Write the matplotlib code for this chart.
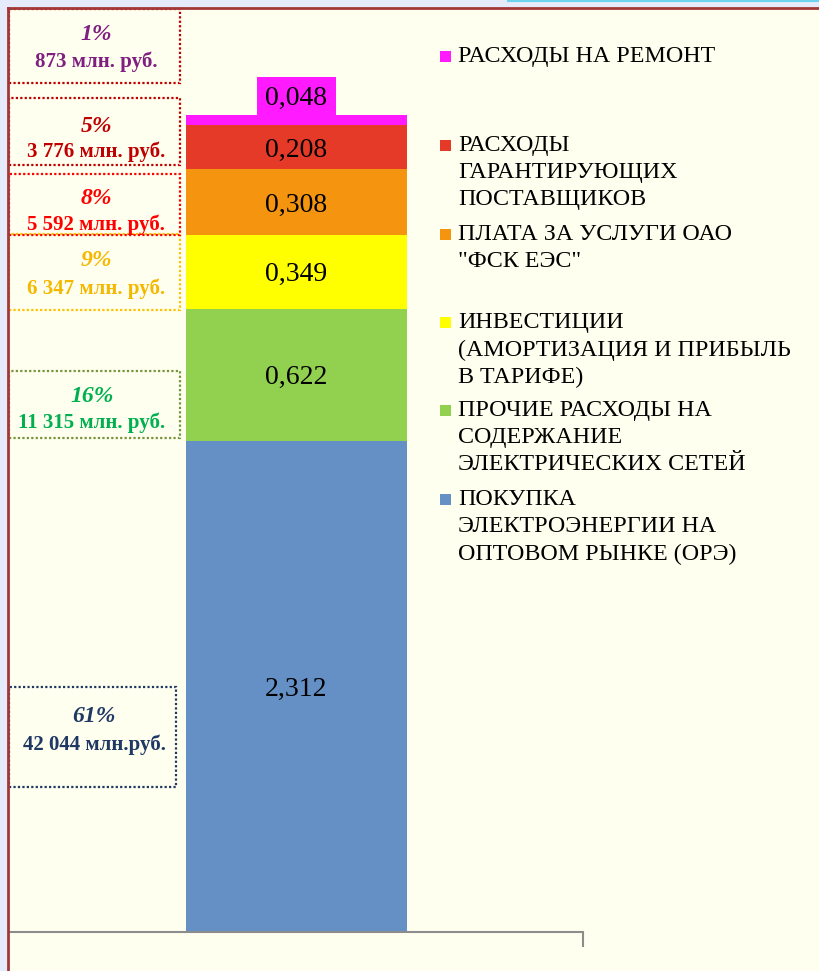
import matplotlib.pyplot as plt
from matplotlib.patches import Rectangle
from matplotlib.lines import Line2D

# =========================================
# DATA
# =========================================

categories = [
    "ПОКУПКА\nЭЛЕКТРОЭНЕРГИИ НА\nОПТОВОМ РЫНКЕ (ОРЭ)",
    "ПРОЧИЕ РАСХОДЫ НА\nСОДЕРЖАНИЕ\nЭЛЕКТРИЧЕСКИХ СЕТЕЙ",
    "ИНВЕСТИЦИИ\n(АМОРТИЗАЦИЯ И ПРИБЫЛЬ\nВ ТАРИФЕ)",
    "ПЛАТА ЗА УСЛУГИ ОАО\n\"ФСК ЕЭС\"",
    "РАСХОДЫ\nГАРАНТИРУЮЩИХ\nПОСТАВЩИКОВ",
    "РАСХОДЫ НА РЕМОНТ",
]
values = [2.312, 0.622, 0.349, 0.308, 0.208, 0.048]
colors = ["#6590C6", "#92D050", "#FFFF00", "#F4940F", "#E63A28", "#FF1AFF"]

percents = ["61%", "16%", "9%", "8%", "5%", "1%"]
amounts = ["42 044 млн.руб.", "11 315 млн. руб.", "6 347 млн. руб.",
           "5 592 млн. руб.", "3 776 млн. руб.", "873 млн. руб."]
text_colors = ["#1F3864", "#00B050", "#F5B800", "#FF0000", "#C00000", "#7F1F80"]
box_colors = ["#1F3864", "#77933C", "#FFC000", "#FF0000", "#C00000", "#C00000"]

# =========================================
# FIGURE
# =========================================

W, H = 819, 971
BG = "#FEFFEF"
SERIF = "Liberation Serif"

fig = plt.figure(figsize=(W / 100, H / 100), dpi=100, facecolor=BG)


def fx(x):
    return x / W


def fy(y):
    return 1 - y / H


# page frame
fig.add_artist(Rectangle((0, fy(8)), 1, 8 / H, transform=fig.transFigure,
                         facecolor="#E6EBFB", edgecolor="none"))
fig.add_artist(Rectangle((0, 0), 8 / W, 1, transform=fig.transFigure,
                         facecolor="#E6EBFB", edgecolor="none"))
fig.add_artist(Line2D([fx(508), 1], [fy(0.8), fy(0.8)], transform=fig.transFigure,
                      color="#6FD3EE", lw=1.5))
fig.add_artist(Line2D([fx(8), 1], [fy(8), fy(8)], transform=fig.transFigure,
                      color="#A33838", lw=2))
fig.add_artist(Line2D([fx(8), fx(8)], [0, fy(8)], transform=fig.transFigure,
                      color="#A33838", lw=2))

# =========================================
# STACKED BAR
# =========================================

ax_left, ax_right, ax_bottom, ax_top = 8, 583, 932, 9
ax = fig.add_axes([fx(ax_left), fy(ax_bottom), (ax_right - ax_left) / W,
                   (ax_bottom - ax_top) / H])
ax.set_facecolor("none")

px_per_unit = 212.4
bar_w_px = 221
bar_center_px = 296.5
unit_x = bar_w_px
ax.set_xlim(-(bar_center_px - ax_left) / unit_x, (ax_right - bar_center_px) / unit_x)
ax.set_ylim(0, (ax_bottom - ax_top) / px_per_unit)

bottom = 0
for v, c in zip(values, colors):
    ax.bar(0, v, bottom=bottom, width=1, color=c, edgecolor="none")
    label = f"{v:.3f}".replace(".", ",")
    if v < 0.1:
        ax.text(0, bottom + v + 0.094, label, ha="center", va="center_baseline",
                fontsize=20, family=SERIF, color="black",
                bbox=dict(boxstyle="square,pad=0.32", facecolor=c, edgecolor="none"))
    else:
        ax.text(0, bottom + v / 2, label, ha="center", va="center_baseline",
                fontsize=20, family=SERIF, color="black")
    bottom += v

for s in ["top", "right", "left"]:
    ax.spines[s].set_visible(False)
ax.spines["bottom"].set_color("#8C8C8C")
ax.spines["bottom"].set_linewidth(1.5)
ax.set_yticks([])
ax.set_xticks([ax.get_xlim()[1]])
ax.tick_params(axis="x", length=11, width=1.5, color="#8C8C8C", labelbottom=False)

# =========================================
# LEFT BOXES
# =========================================

# (top, bottom, right, pct_y, amount_y, text_x) in pixels, order as values
boxes = [
    (687, 787, 176, 716, 745, 94),
    (371, 438, 180, 396, 423, 92),
    (234, 310, 180, 261, 289, 96),
    (174, 235, 180, 199, 225, 96),
    (98, 165, 180, 126, 152, 96),
    (9, 83, 180, 34, 62, 96),
]

for (top, bot, right, py, ay, tx), pct, amt, tc, bc in zip(
        boxes, percents, amounts, text_colors, box_colors):
    fig.add_artist(Rectangle((fx(9), fy(bot)), (right - 9) / W, (bot - top) / H,
                             transform=fig.transFigure, facecolor="none",
                             edgecolor=bc, lw=1.6, linestyle=(0, (1, 1))))
    fig.text(fx(tx), fy(py), pct, ha="center", va="center", fontsize=17,
             family=SERIF, weight="bold", style="italic", color=tc)
    fig.text(fx(tx), fy(ay), amt, ha="center", va="center", fontsize=15,
             family=SERIF, weight="bold", color=tc)

# =========================================
# LEGEND
# =========================================

legend_y = [56, 145, 234, 322, 410, 499]

for name, c, y in zip(categories, colors, legend_y[::-1]):
    fig.add_artist(Rectangle((fx(440), fy(y + 6)), 11 / W, 11 / H,
                             transform=fig.transFigure, facecolor=c, edgecolor="none"))
    fig.text(fx(458), fy(y - 10), name, ha="left", va="top", fontsize=17.3,
             family=SERIF, color="black", linespacing=1.39)

fig.savefig("out.png", dpi=100, facecolor=BG)
print("✅ Gráfico generado")
